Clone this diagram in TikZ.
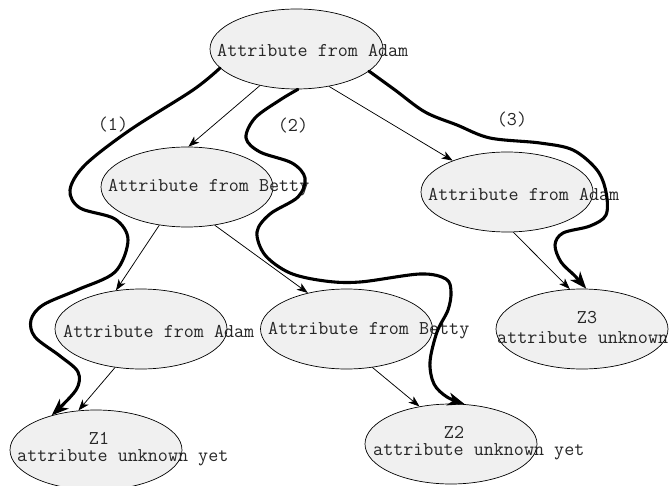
\documentclass[tikz,border=0pt]{standalone}
\usepackage{fontspec}
\usetikzlibrary{shapes.geometric,arrows.meta}
\definecolor{nodefill}{HTML}{F0F0F0}
\begin{document}
\begin{tikzpicture}[x=1bp,y=-1bp,
  state/.style={ellipse, draw=black, line width=0.7pt, fill=nodefill, minimum width=172bp, minimum height=80bp, inner sep=0pt},
  lbl/.style={font=\ttfamily\fontsize{19.6}{22}\selectfont, inner sep=0pt, text=black!85},
  edge/.style={line width=0.75pt, -{Stealth[length=11bp,width=8bp,inset=3bp]}},
  route/.style={line width=3.1pt, line cap=round, line join=round, -{Stealth[length=17bp,width=13bp,inset=5bp]}}
]
\useasboundingbox (0,0) rectangle (672,486);
% nodes
\node[state, minimum width=173bp] (A) at (296.5,49) {};
\node[state] (B) at (187,187) {};
\node[state] (C) at (507,192) {};
\node[state] (D) at (141,329) {};
\node[state] (E) at (346.5,329) {};
\node[state] (F) at (582,329) {};
\node[state] (G) at (96,450) {};
\node[state] (H) at (451,444) {};
% texts
\node[lbl, anchor=west] (At) at (217,50) {Attribute from Adam};
\node[lbl, anchor=west] (Bt) at (108,188) {Attribute from Betty};
\node[lbl, anchor=west] (Ct) at (428,194) {Attribute from Adam};
\node[lbl, anchor=west] (Dt) at (63,331) {Attribute from Adam};
\node[lbl, anchor=west] (Et) at (268,331) {Attribute from Betty};
\node[lbl] (Fz) at (587,318) {Z3};
\node[lbl, anchor=west] (Ft) at (497,338) {attribute unknown};
\node[lbl] (Gz) at (99,438) {Z1};
\node[lbl, anchor=west] (Gt) at (17,458) {attribute unknown yet};
\node[lbl] (Hz) at (454,432) {Z2};
\node[lbl, anchor=west] (Ht) at (373,452) {attribute unknown yet};
% path labels
\node[lbl] (L1) at (113,125) {(1)};
\node[lbl] (L2) at (293,126) {(2)};
\node[lbl] (L3) at (512,120) {(3)};
% thin edges
\draw[edge] (A.225) -- (B.88);
\draw[edge] (A.311) -- (C.150);
\draw[edge] (B.234) -- (D.123);
\draw[edge] (B.306) -- (E.137);
\draw[edge] (C.279) -- (F.107);
\draw[edge] (D.236) -- (G.114);
\draw[edge] (E.304) -- (H.130);
% thick routes
\draw[route] plot[smooth, tension=0.55] coordinates {(A.194) (193,90) (130,130) (85,165) (70,190) (80,208) (115,219) (128,240) (115,272) (77,290) (43,305) (31,320) (35,337) (60,356) (78,372) (76,390) (G.142)};
\draw[route] plot[smooth, tension=0.55] coordinates {(A.272) (280,100) (255,118) (246,138) (260,152) (292,163) (305,178) (298,197) (270,214) (257,232) (265,255) (290,273) (325,281) (360,282) (420,274) (446,279) (451,292) (448,310) (437,332) (430,362) (434,384) (447,397) (H.71)};
\draw[route] plot[smooth, tension=0.55] coordinates {(A.343) (395,90) (425,112) (457,125) (490,138) (540,143) (573,150) (597,170) (606,192) (606,215) (590,226) (563,233) (555,245) (561,262) (575,276) (F.84)};
\end{tikzpicture}
\end{document}
